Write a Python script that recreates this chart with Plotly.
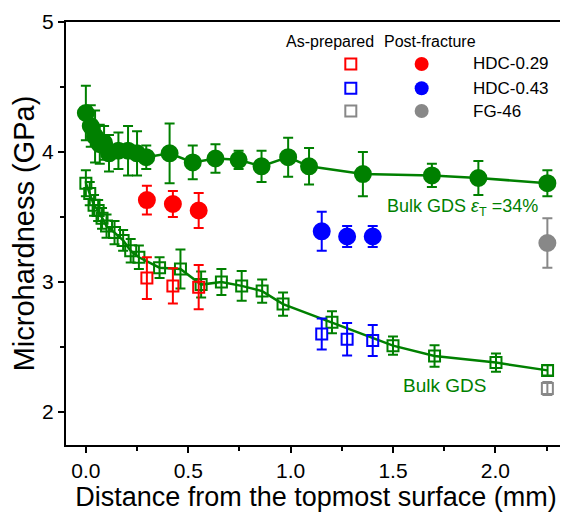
import plotly.graph_objects as go

# Bulk GDS, eps_T = 34% (post-fracture, filled circles)
x_gds34 = [0.0, 0.024, 0.045, 0.068, 0.089, 0.113, 0.159, 0.206, 0.25, 0.295, 0.409, 0.522,
           0.633, 0.746, 0.858, 0.988, 1.09, 1.353, 1.69, 1.917, 2.254]
y_gds34 = [4.30, 4.20, 4.12, 4.06, 4.07, 3.99, 4.01, 4.01, 3.99, 3.96, 3.99, 3.92,
           3.95, 3.94, 3.89, 3.96, 3.89, 3.83, 3.82, 3.80, 3.76]
e_gds34 = [0.21, 0.16, 0.20, 0.15, 0.13, 0.14, 0.14, 0.19, 0.17, 0.09, 0.23, 0.13,
           0.11, 0.07, 0.12, 0.15, 0.14, 0.17, 0.09, 0.13, 0.10]

# Bulk GDS (as-prepared, open squares)
x_gds = [0.0, 0.019, 0.040, 0.060, 0.079, 0.101, 0.140, 0.182, 0.219, 0.259, 0.360, 0.462,
         0.563, 0.662, 0.761, 0.861, 0.963, 1.202, 1.50, 1.703, 2.003, 2.255]
y_gds = [3.76, 3.68, 3.59, 3.55, 3.49, 3.43, 3.38, 3.32, 3.24, 3.19, 3.11, 3.10,
         2.98, 3.00, 2.97, 2.93, 2.83, 2.69, 2.51, 2.43, 2.38, 2.32]
e_gds = [0.10, 0.09, 0.08, 0.08, 0.08, 0.09, 0.09, 0.08, 0.09, 0.09, 0.08, 0.15,
         0.10, 0.10, 0.115, 0.09, 0.09, 0.085, 0.07, 0.083, 0.07, 0.04]

# HDC-0.29
x_h29 = [0.298, 0.425, 0.551]
y_h29_prep = [3.03, 2.97, 2.96]
e_h29_prep = [0.16, 0.135, 0.17]
y_h29_frac = [3.63, 3.60, 3.55]
e_h29_frac = [0.11, 0.10, 0.135]

# HDC-0.43
x_h43 = [1.152, 1.276, 1.401]
y_h43_prep = [2.60, 2.56, 2.55]
e_h43_prep = [0.12, 0.125, 0.12]
y_h43_frac = [3.39, 3.35, 3.35]
e_h43_frac = [0.15, 0.08, 0.08]

# FG-46
x_fg = [2.254]
y_fg_prep = [2.18]
e_fg_prep = [0.05]
y_fg_frac = [3.30]
e_fg_frac = [0.19]

GREEN = '#008000'
RED = '#ff0000'
BLUE = '#0000ff'
GREY = '#888888'
FONT = 'Liberation Sans, Arial, sans-serif'

fig = go.Figure()


def add(x, y, e, color, filled, line=False):
    fig.add_trace(go.Scatter(
        x=x, y=y,
        mode='lines+markers' if line else 'markers',
        line=dict(color=color, width=2.5),
        marker=dict(symbol='circle' if filled else 'square-open',
                    size=16 if filled else 11,
                    color=color,
                    line=dict(color=color, width=2)),
        error_y=dict(type='data', array=e, color=color, thickness=2, width=5),
        showlegend=False, cliponaxis=False,
    ))


add(x_gds34, y_gds34, e_gds34, GREEN, True, line=True)
add(x_gds, y_gds, e_gds, GREEN, False, line=True)
add(x_h29, y_h29_prep, e_h29_prep, RED, False)
add(x_h29, y_h29_frac, e_h29_frac, RED, True)
add(x_h43, y_h43_prep, e_h43_prep, BLUE, False)
add(x_h43, y_h43_frac, e_h43_frac, BLUE, True)
add(x_fg, y_fg_prep, e_fg_prep, GREY, False)
add(x_fg, y_fg_frac, e_fg_frac, GREY, True)

# hand-made two-column legend
leg_names = ['HDC-0.29', 'HDC-0.43', 'FG-46']
leg_colors = [RED, BLUE, GREY]
leg_y = [4.677, 4.49, 4.315]
leg_x_prep, leg_x_frac, leg_x_text = 1.294, 1.64, 1.88

fig.add_trace(go.Scatter(
    x=[leg_x_prep] * 3, y=leg_y, mode='markers', showlegend=False, cliponaxis=False,
    marker=dict(symbol='square-open', size=11, color=leg_colors, line=dict(width=2))))
fig.add_trace(go.Scatter(
    x=[leg_x_frac] * 3, y=leg_y, mode='markers', showlegend=False, cliponaxis=False,
    marker=dict(symbol='circle', size=14, color=leg_colors)))

for name, yy in zip(leg_names, leg_y):
    fig.add_annotation(x=leg_x_text, y=yy, text=name, showarrow=False, xanchor='left',
                       font=dict(size=17, color='black', family=FONT))
fig.add_annotation(x=1.19, y=4.85, text='As-prepared', showarrow=False,
                   font=dict(size=16, color='black', family=FONT))
fig.add_annotation(x=1.68, y=4.85, text='Post-fracture', showarrow=False,
                   font=dict(size=16, color='black', family=FONT))

fig.add_annotation(x=1.84, y=3.57, text='Bulk GDS <i>ε</i><sub>T</sub> =34%', showarrow=False,
                   font=dict(size=18, color=GREEN, family=FONT))
fig.add_annotation(x=1.75, y=2.2, text='Bulk GDS', showarrow=False,
                   font=dict(size=19, color=GREEN, family=FONT))

axis_common = dict(showline=True, linecolor='black', linewidth=2, mirror=True,
                   ticks='outside', ticklen=6, tickwidth=2, tickcolor='black',
                   showgrid=False, zeroline=False,
                   tickfont=dict(size=21, color='black', family=FONT),
                   minor=dict(ticks='outside', ticklen=4, tickwidth=2, tickcolor='black'))

fig.update_xaxes(range=[-0.097, 2.345], tickvals=[0, 0.5, 1.0, 1.5, 2.0],
                 ticktext=['0.0', '0.5', '1.0', '1.5', '2.0'],
                 minor_tickvals=[0.25, 0.75, 1.25, 1.75, 2.25],
                 title=dict(text='Distance from the topmost surface (mm)', standoff=11,
                            font=dict(size=27, color='black', family=FONT)),
                 **axis_common)
fig.update_yaxes(range=[1.746, 5.0], tickvals=[2, 3, 4, 5],
                 minor_tickvals=[2.5, 3.5, 4.5],
                 title=dict(text='Microhardness (GPa)', standoff=9,
                            font=dict(size=29, color='black', family=FONT)),
                 **axis_common)

# the page adds an 8px body margin, so the figure is sized to fit inside the window
fig.update_layout(
    width=560, height=504,
    margin=dict(l=58, r=0, t=14, b=65),
    plot_bgcolor='white', paper_bgcolor='white',
)

fig.write_html("out.html")
